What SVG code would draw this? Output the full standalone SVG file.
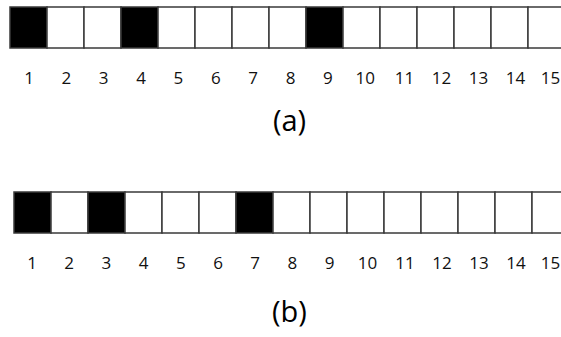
<svg xmlns="http://www.w3.org/2000/svg" width="561" height="337" viewBox="0 0 561 337">
<style>
.c{fill:#fff;stroke:#3a3a3a;stroke-width:1.5}
.k{fill:#000;stroke:#3a3a3a;stroke-width:1.5}
.n{font-family:"Open Sans","Liberation Sans",sans-serif;font-size:17px;fill:#111;text-anchor:middle}
.t{font-family:"Open Sans","Liberation Sans",sans-serif;font-size:29px;fill:#000;text-anchor:middle}
</style>
<rect width="561" height="337" fill="#fff"/>
<g id="rowA">
<g id="a1"><rect class="k" x="10" y="7" width="37" height="41"/><text class="n" x="29" y="84">1</text></g>
<g id="a2"><rect class="c" x="47" y="7" width="37" height="41"/><text class="n" x="66.4" y="84">2</text></g>
<g id="a3"><rect class="c" x="84" y="7" width="37" height="41"/><text class="n" x="103.7" y="84">3</text></g>
<g id="a4"><rect class="k" x="121" y="7" width="37" height="41"/><text class="n" x="141.1" y="84">4</text></g>
<g id="a5"><rect class="c" x="158" y="7" width="37" height="41"/><text class="n" x="178.4" y="84">5</text></g>
<g id="a6"><rect class="c" x="195" y="7" width="37" height="41"/><text class="n" x="215.8" y="84">6</text></g>
<g id="a7"><rect class="c" x="232" y="7" width="37" height="41"/><text class="n" x="253.2" y="84">7</text></g>
<g id="a8"><rect class="c" x="269" y="7" width="37" height="41"/><text class="n" x="290.5" y="84">8</text></g>
<g id="a9"><rect class="k" x="306" y="7" width="37" height="41"/><text class="n" x="327.9" y="84">9</text></g>
<g id="a10"><rect class="c" x="343" y="7" width="37" height="41"/><text class="n" x="365.2" y="84">10</text></g>
<g id="a11"><rect class="c" x="380" y="7" width="37" height="41"/><text class="n" x="404.5" y="84">11</text></g>
<g id="a12"><rect class="c" x="417" y="7" width="37" height="41"/><text class="n" x="441.5" y="84">12</text></g>
<g id="a13"><rect class="c" x="454" y="7" width="37" height="41"/><text class="n" x="478.5" y="84">13</text></g>
<g id="a14"><rect class="c" x="491" y="7" width="37" height="41"/><text class="n" x="515.5" y="84">14</text></g>
<g id="a15"><rect class="c" x="528" y="7" width="37" height="41"/><text class="n" x="550.5" y="84">15</text></g>
<text class="t" x="289.5" y="131">(a)</text>
</g>
<g id="rowB">
<g id="b1"><rect class="k" x="14" y="192" width="37" height="41"/><text class="n" x="32" y="269">1</text></g>
<g id="b2"><rect class="c" x="51" y="192" width="37" height="41"/><text class="n" x="69.2" y="269">2</text></g>
<g id="b3"><rect class="k" x="88" y="192" width="37" height="41"/><text class="n" x="106.4" y="269">3</text></g>
<g id="b4"><rect class="c" x="125" y="192" width="37" height="41"/><text class="n" x="143.6" y="269">4</text></g>
<g id="b5"><rect class="c" x="162" y="192" width="37" height="41"/><text class="n" x="180.8" y="269">5</text></g>
<g id="b6"><rect class="c" x="199" y="192" width="37" height="41"/><text class="n" x="218" y="269">6</text></g>
<g id="b7"><rect class="k" x="236" y="192" width="37" height="41"/><text class="n" x="255.2" y="269">7</text></g>
<g id="b8"><rect class="c" x="273" y="192" width="37" height="41"/><text class="n" x="292.4" y="269">8</text></g>
<g id="b9"><rect class="c" x="310" y="192" width="37" height="41"/><text class="n" x="329.6" y="269">9</text></g>
<g id="b10"><rect class="c" x="347" y="192" width="37" height="41"/><text class="n" x="367.5" y="269">10</text></g>
<g id="b11"><rect class="c" x="384" y="192" width="37" height="41"/><text class="n" x="405" y="269">11</text></g>
<g id="b12"><rect class="c" x="421" y="192" width="37" height="41"/><text class="n" x="442" y="269">12</text></g>
<g id="b13"><rect class="c" x="458" y="192" width="37" height="41"/><text class="n" x="479" y="269">13</text></g>
<g id="b14"><rect class="c" x="495" y="192" width="37" height="41"/><text class="n" x="516" y="269">14</text></g>
<g id="b15"><rect class="c" x="532" y="192" width="37" height="41"/><text class="n" x="550.5" y="269">15</text></g>
<text class="t" x="289.5" y="322">(b)</text>
</g>
<g id="connectors"/>
</svg>
